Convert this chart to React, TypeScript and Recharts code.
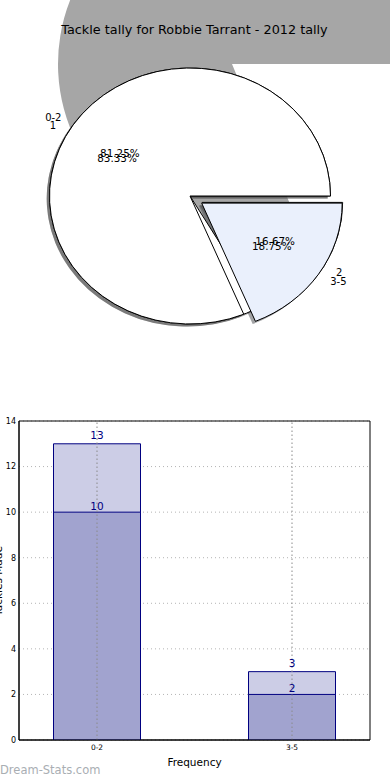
import React from 'react';
import {
  PieChart, Pie, BarChart, Bar, XAxis, YAxis, CartesianGrid, LabelList, ReferenceLine, ReferenceArea,
} from 'recharts';

const FONT = '"DejaVu Sans", Verdana, sans-serif';

// ---- Pie data (two overlaid pies) ----
const pieNamesA = ['1', '2'];
const pieValuesA = [10, 2];
const pieNamesB = ['0-2', '3-5'];
const pieValuesB = [13, 3];
const explodeFrac = [0, 0.1];

// ---- Bar data ----
const categories = ['0-2', '3-5'];
const totalTackles = [13, 3];
const lowerTackles = [10, 2];
const yTicks = [0, 2, 4, 6, 8, 10, 12, 14];

const pieA = pieNamesA.map((name, i) => ({ name, value: pieValuesA[i] }));
const pieB = pieNamesB.map((name, i) => ({ name, value: pieValuesB[i] }));
const barData = categories.map((label, i) => ({ x: i, label, total: totalTackles[i], lower: lowerTackles[i] }));

const RATIO = 0.911;
const RAD = Math.PI / 180;

type ShapeOpts = {
  ratio: number; names: string[]; fills: string[]; stroke?: string; sw?: number;
  explode: number[]; dx?: number; dy?: number;
};

function ellPath(cx: number, cy: number, rx: number, ry: number, a0: number, a1: number) {
  const x0 = cx + rx * Math.cos(a0 * RAD), y0 = cy - ry * Math.sin(a0 * RAD);
  const x1 = cx + rx * Math.cos(a1 * RAD), y1 = cy - ry * Math.sin(a1 * RAD);
  const large = Math.abs(a1 - a0) > 180 ? 1 : 0;
  const sweep = a1 > a0 ? 0 : 1;
  return `M${cx},${cy} L${x0},${y0} A${rx},${ry} 0 ${large} ${sweep} ${x1},${y1} Z`;
}

const sectorShape = (o: ShapeOpts) => (p: any) => {
  const name = p?.payload?.name ?? p.name;
  const i = Math.max(0, o.names.indexOf(name));
  const mid = (p.startAngle + p.endAngle) / 2;
  const r = p.outerRadius;
  const ex = o.explode[i] * r;
  const cx = p.cx + ex * Math.cos(mid * RAD) + (o.dx || 0);
  const cy = p.cy - ex * o.ratio * Math.sin(mid * RAD) + (o.dy || 0);
  const fill = o.fills[i];
  if (fill === 'none' && !o.stroke) return <g />;
  return (
    <path
      d={ellPath(cx, cy, r, r * o.ratio, p.startAngle, p.endAngle)}
      fill={fill}
      stroke={o.stroke || 'none'}
      strokeWidth={o.sw || 0}
    />
  );
};

const pieLabel = (names: string[]) => (p: any) => {
  const name = p?.payload?.name ?? p.name;
  const i = Math.max(0, names.indexOf(name));
  const mid = (p.startAngle + p.endAngle) / 2;
  const r = p.outerRadius;
  const c = Math.cos(mid * RAD), s = Math.sin(mid * RAD);
  const ex = explodeFrac[i] * r;
  const ox = p.cx + ex * c, oy = p.cy - ex * RATIO * s;
  const lx = ox + 1.1 * r * c, ly = oy - 1.1 * r * RATIO * s;
  const px = ox + 0.6 * r * c, py = oy - 0.6 * r * RATIO * s;
  return (
    <g>
      <text x={lx} y={ly} textAnchor={lx > p.cx ? 'start' : 'end'} dominantBaseline="central"
        fontSize={10} fontFamily={FONT} fill="#000">{name}</text>
      <text x={px} y={py} textAnchor="middle" dominantBaseline="central"
        fontSize={10.4} fontFamily={FONT} fill="#000">{(p.percent * 100).toFixed(2)}%</text>
    </g>
  );
};

const noShape = () => <g />;

const WHITE_SH = 'rgba(77,77,77,0.5)';
const BLUE_SH = 'rgba(70,72,76,0.5)';
const BLUE = '#eaf0fc';

export default function App() {
  const CX = 190, CY = 196, R = 140.5;
  const common = { cx: CX, cy: CY, outerRadius: R, innerRadius: 0, dataKey: 'value', nameKey: 'name',
    startAngle: 0, endAngle: 360, isAnimationActive: false, labelLine: false, stroke: 'none' } as any;
  return (
    <div style={{ position: 'absolute', left: 0, top: 0, width: 390, height: 780, background: '#fff', fontFamily: FONT }}>
      <div style={{ position: 'absolute', left: 0, top: 0 }}>
        <PieChart width={390} height={390} margin={{ top: 0, right: 0, bottom: 0, left: 0 }}>
          <Pie {...common} data={pieB} cx={232} cy={64} outerRadius={174}
            shape={sectorShape({ ratio: 1, names: pieNamesB, fills: ['#a6a6a6', 'none'], explode: [0, 0] })} />
          <Pie {...common} data={pieA}
            shape={sectorShape({ ratio: RATIO, names: pieNamesA, fills: [WHITE_SH, BLUE_SH], explode: explodeFrac, dx: -2.8, dy: 2.6 })} />
          <Pie {...common} data={pieB}
            shape={sectorShape({ ratio: RATIO, names: pieNamesB, fills: [WHITE_SH, BLUE_SH], explode: explodeFrac, dx: -2.8, dy: 2.6 })} />
          <Pie {...common} data={pieA}
            shape={sectorShape({ ratio: RATIO, names: pieNamesA, fills: ['#ffffff', BLUE], stroke: '#000', sw: 1, explode: explodeFrac })} />
          <Pie {...common} data={pieB}
            shape={sectorShape({ ratio: RATIO, names: pieNamesB, fills: ['#ffffff', BLUE], stroke: '#000', sw: 1, explode: explodeFrac })} />
          <Pie {...common} data={pieA} shape={noShape} fill="none" label={pieLabel(pieNamesA)} />
          <Pie {...common} data={pieB} shape={noShape} fill="none" label={pieLabel(pieNamesB)} />
        </PieChart>
      </div>
      <div style={{ position: 'absolute', left: 0, top: 390 }}>
        <BarChart width={390} height={390} data={barData} margin={{ top: 31, right: 20, bottom: 0, left: 0 }} barGap={-87}>
          <CartesianGrid vertical={false} stroke="#b4b4b4" strokeDasharray="1 3" />
          <XAxis dataKey="x" type="number" domain={[-0.4, 1.4]} ticks={[0, 1]} allowDataOverflow
            tickFormatter={(v: number) => categories[v] ?? ''} height={40}
            axisLine={{ stroke: '#000' }} tickLine={false} tickSize={3} tickMargin={2}
            tick={{ fontSize: 7.5, fill: '#000', fontFamily: FONT }}
            label={{ value: 'Frequency', position: 'insideBottom', offset: 14, fontSize: 10.5, fill: '#000', fontFamily: FONT }} />
          <YAxis domain={[0, 14]} ticks={yTicks} width={19} allowDataOverflow
            axisLine={{ stroke: '#000' }} tickLine={false} tickSize={3} tickMargin={0}
            tick={{ fontSize: 8, fill: '#000', fontFamily: FONT }} />
          <Bar dataKey="total" fill="#cccde6" stroke="#000080" strokeWidth={1} barSize={87} isAnimationActive={false}>
            <LabelList dataKey="total" position="top" offset={5} fill="#000080" fontSize={10.5} fontFamily={FONT} />
          </Bar>
          <Bar dataKey="lower" fill="#a1a3cf" stroke="#000080" strokeWidth={1} barSize={87} isAnimationActive={false}>
            <LabelList dataKey="lower" position="top" offset={2} fill="#000080" fontSize={10.5} fontFamily={FONT} />
          </Bar>
          <ReferenceLine x={0} stroke="#8a8a8a" strokeDasharray="1.5 2.5" />
          <ReferenceLine x={1} stroke="#8a8a8a" strokeDasharray="1.5 2.5" />
          <ReferenceArea x1={-0.4} x2={1.4} y1={0} y2={14} fill="none" fillOpacity={0} stroke="#000" strokeWidth={1} />
        </BarChart>
      </div>
      <svg width={390} height={780} style={{ position: 'absolute', left: 0, top: 0, pointerEvents: 'none' }}>
        <text x={194.5} y={33.5} textAnchor="middle" fontSize={12.8} fontFamily={FONT} fill="#000">
          Tackle tally for Robbie Tarrant - 2012 tally
        </text>
        <text x={1.5} y={581} textAnchor="middle" fontSize={10.5} fontFamily={FONT} fill="#000"
          transform="rotate(-90, 1.5, 581)">Tackles Made</text>
        <text x={0} y={773.5} fontSize={11.5} fontFamily={FONT} fill="#a9aeb3">Dream-Stats.com</text>
      </svg>
    </div>
  );
}
